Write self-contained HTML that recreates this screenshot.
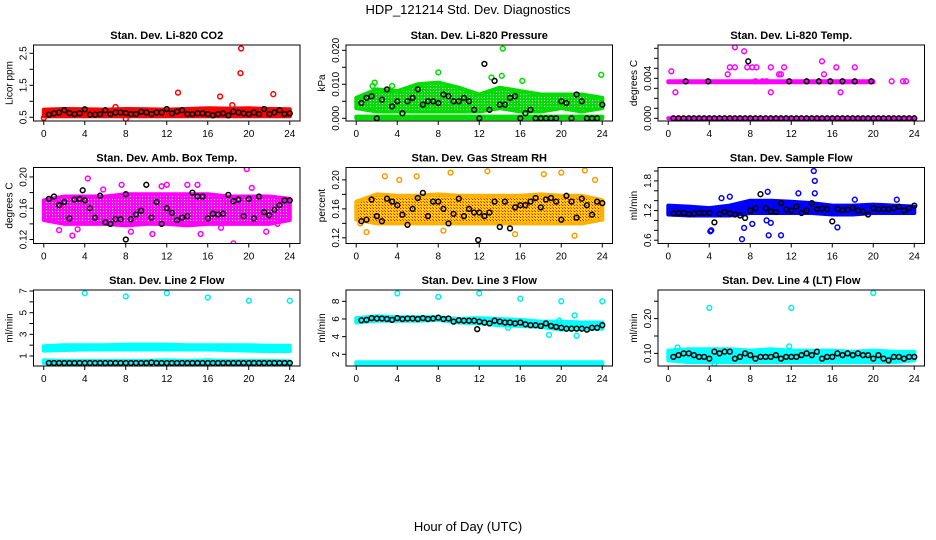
<!DOCTYPE html>
<html><head><meta charset="utf-8"><style>
html,body{margin:0;padding:0;background:#fff;}
svg{display:block;font-family:"Liberation Sans",Arial,sans-serif;}
</style></head><body>
<svg id="chart" width="936" height="540" viewBox="0 0 936 540" xmlns="http://www.w3.org/2000/svg">
<defs>
<pattern id="pat-green" width="3" height="3" patternUnits="userSpaceOnUse"><rect width="3" height="3" fill="#00dd00"/><rect x="1" y="1" width="1" height="1" fill="#fff"/></pattern>
<pattern id="pat-magenta" width="3" height="3" patternUnits="userSpaceOnUse"><rect width="3" height="3" fill="#ff00ff"/><rect x="1" y="1" width="1" height="1" fill="#fff"/></pattern>
<pattern id="pat-rh" width="3" height="3" patternUnits="userSpaceOnUse"><rect width="3" height="3" fill="#ffd000"/><rect x="1" y="1" width="1" height="1" fill="#ff0000"/><rect x="0" y="0" width="1" height="1" fill="#ff4000"/></pattern>
</defs>
<text x="468" y="14" text-anchor="middle" font-size="13">HDP_121214  Std. Dev. Diagnostics</text>
<text x="468" y="531" text-anchor="middle" font-size="13">Hour of Day (UTC)</text>
<g id="panels"></g>
</svg>
<script>
// ---- shared data ----
const xTicks = [0,4,8,12,16,20,24];
const bandHours = [0,2,4,6,8,10,12,14,16,18,20,22,24];
const blackHours = [0.5,1,1.5,2,2.5,3,3.5,4,4.5,5,5.5,6,6.5,7,7.5,8,8.5,9,9.5,10,10.5,11,11.5,12,12.5,13,13.5,14,14.5,15,15.5,16,16.5,17,17.5,18,18.5,19,19.5,20,20.5,21,21.5,22,22.5,23,23.5,24];

// ---- panel 1: CO2 ----
const co2BandLo = [0.53,0.53,0.53,0.53,0.53,0.53,0.53,0.53,0.53,0.53,0.53,0.53,0.53];
const co2BandHi = [0.74,0.76,0.75,0.74,0.76,0.75,0.74,0.76,0.78,0.77,0.78,0.76,0.75];
const co2OutX = [13.1,17.2,19.25,19.2,22.4,18.4,7,0,8];
const co2OutY = [1.27,1.15,2.65,1.88,1.22,0.88,0.82,0.48,0.45];
const co2Black = [0.58,0.62,0.65,0.72,0.63,0.6,0.62,0.75,0.58,0.58,0.6,0.72,0.6,0.65,0.65,0.63,0.6,0.6,0.67,0.65,0.6,0.65,0.65,0.76,0.62,0.68,0.72,0.6,0.6,0.62,0.62,0.6,0.56,0.6,0.62,0.56,0.68,0.65,0.62,0.6,0.65,0.6,0.76,0.6,0.65,0.72,0.6,0.62];

// ---- panel 2: Pressure ----
const prBandLo = [0.003,0.002,0.002,0.002,0.002,0.002,0.002,0.003,0.002,0.002,0.003,0.002,0.003];
const prBandHi = [0.006,0.0085,0.008,0.01,0.0105,0.009,0.007,0.009,0.008,0.007,0.007,0.007,0.006];
const prZeroLo = [0,0,0,0,0,0,0,0,0,0,0,0,0];
const prZeroHi = [0.0005,0.0005,0.0005,0.0005,0.0005,0.0005,0.0005,0.0005,0.0005,0.0005,0.0005,0.0005,0.0005];
const prOutX = [14.3,8,23.9,14.2,1.8,16.2,13.2,1.6,3.5];
const prOutY = [0.0205,0.0135,0.0128,0.0125,0.0105,0.011,0.012,0.0095,0.0095];
const prBlack = [0.0045,0.006,0.0065,0,0.0055,0.0085,0.0035,0.005,0.0015,0.005,0.006,0.0085,0.004,0.005,0.005,0.0045,0.007,0.0065,0.005,0.005,0.006,0.005,0.0025,0,0.016,0.0025,0.011,0.004,0.004,0.006,0.0065,0,0.0015,0.0025,0,0,0,0,0,0.005,0.0045,0,0.007,0.005,0,0,0,0.004];

// ---- panel 3: Temp ----
const tpBandHours = [0,8,9,20];
const tpBandLo = [0.0036,0.0036,0.0036,0.0036];
const tpBandHi = [0.0037,0.0037,0.0037,0.0037];
const tpZeroLo = [0,0,0,0,0,0,0,0,0,0,0,0,0];
const tpZeroHi = [0,0,0,0,0,0,0,0,0,0,0,0,0];
const tpOutX = [0.3,0.7,5.8,6,6.5,6.5,7.4,7.7,8.2,8.6,10,10,10.8,11,11.3,15,15.2,16.4,16.8,18.2,21.8,22.9,23.2,8.5,9.2,9.6];
const tpOutY = [0.0047,0.0026,0.0044,0.0051,0.0071,0.0051,0.0067,0.0051,0.0051,0.0051,0.0051,0.0026,0.0044,0.0044,0.0051,0.0057,0.0044,0.0051,0.0026,0.0051,0.0037,0.0037,0.0037,0.0037,0.0037,0.0037];
const tpBlack = [0,0,0,0,0,0,0,0,0,0,0,0,0,0,0,0,0,0,0,0,0,0,0,0,0,0,0,0,0,0,0,0,0,0,0,0,0,0,0,0,0,0,0,0,0,0,0,0];
const tpExtraX = [1.7,3.9,11.8,13.5,14.7,15.8,17,18.2,19.8,7.8];
const tpExtraY = [0.0037,0.0037,0.0037,0.0037,0.0037,0.0037,0.0037,0.0037,0.0037,0.0057];

// ---- panel 4: Amb Box Temp ----
const abBandLo = [0.145,0.14,0.14,0.14,0.138,0.14,0.14,0.138,0.14,0.14,0.14,0.14,0.145];
const abBandHi = [0.17,0.175,0.175,0.175,0.178,0.178,0.178,0.178,0.178,0.175,0.175,0.175,0.172];
const abOutX = [18.5,19.8,4.3,2.8,10.6,7.6,0.5,1.5,15.3,21.7,15,14,8.5,22.8,12,5.8,3.3,17.3,20.3,11.5];
const abOutY = [0.115,0.21,0.198,0.125,0.127,0.19,0.145,0.132,0.127,0.13,0.19,0.19,0.13,0.14,0.19,0.184,0.133,0.135,0.186,0.188];
const abBlack = [0.172,0.175,0.164,0.168,0.147,0.171,0.172,0.17,0.16,0.148,0.176,0.142,0.14,0.146,0.146,0.178,0.146,0.152,0.157,0.19,0.148,0.168,0.14,0.16,0.154,0.145,0.148,0.15,0.18,0.175,0.175,0.147,0.153,0.152,0.153,0.177,0.169,0.171,0.15,0.172,0.147,0.175,0.155,0.151,0.158,0.164,0.17,0.17];
const abExtraX = [8,3.8];
const abExtraY = [0.12,0.183];

// ---- panel 5: Gas Stream RH ----
const rhBandLo = [0.145,0.14,0.14,0.14,0.14,0.14,0.14,0.14,0.14,0.14,0.14,0.14,0.145];
const rhBandHi = [0.17,0.18,0.178,0.178,0.18,0.178,0.178,0.178,0.178,0.18,0.178,0.178,0.172];
const rhOutX = [9.2,12.8,22.3,5.9,21.3,0.4,20,2.8,4.2,15.5,18.3,23.3,1,8.5];
const rhOutY = [0.21,0.212,0.213,0.205,0.123,0.14,0.21,0.205,0.2,0.125,0.208,0.2,0.128,0.13];
const rhBlack = [0.143,0.145,0.173,0.15,0.143,0.174,0.17,0.165,0.152,0.138,0.16,0.175,0.182,0.15,0.17,0.17,0.16,0.14,0.153,0.174,0.15,0.16,0.155,0.155,0.15,0.155,0.17,0.135,0.17,0.133,0.162,0.165,0.165,0.17,0.175,0.162,0.173,0.175,0.17,0.145,0.178,0.17,0.148,0.174,0.165,0.152,0.17,0.168];
const rhExtraX = [11.9];
const rhExtraY = [0.117];

// ---- panel 6: Sample Flow ----
const sfBandLo = [1.12,1.1,1.1,1.1,1.15,1.15,1.15,1.15,1.12,1.12,1.15,1.15,1.15];
const sfBandHi = [1.3,1.28,1.25,1.3,1.4,1.4,1.38,1.35,1.3,1.3,1.32,1.3,1.28];
const sfOutX = [14.2,14.3,14.3,9.7,7.2,7.4,4.2,9.8,11,9.6,10,8.2,5.2,6,12.7,16.5,18.2,22.3,4.1];
const sfOutY = [2.0,1.8,1.55,1.58,0.62,0.85,0.8,0.7,0.7,1.0,0.95,0.93,1.45,1.48,1.55,0.86,1.42,1.42,0.78];
const sfBlack = [1.14,1.15,1.15,1.13,1.14,1.15,1.15,1.15,0.96,1.13,1.17,1.14,1.12,1.1,1.05,1.2,1.25,1.53,1.25,1.18,1.17,1.35,1.22,1.2,1.28,1.15,1.2,1.35,1.23,1.24,1.23,0.98,1.23,1.21,1.22,1.25,1.2,1.18,1.12,1.25,1.23,1.23,1.23,1.25,1.28,1.2,1.25,1.3];

// ---- panel 7: Line 2 Flow ----
const l2BandLo = [1.5,1.55,1.6,1.6,1.6,1.6,1.6,1.6,1.6,1.55,1.5,1.45,1.45];
const l2BandHi = [1.9,2.0,2.0,2.0,2.05,2.05,2.05,2.0,2.0,2.0,2.0,1.95,1.95];
const l2LowLo = [0.35,0.35,0.35,0.35,0.35,0.35,0.35,0.35,0.35,0.35,0.35,0.35,0.35];
const l2LowHi = [0.6,0.55,0.55,0.55,0.55,0.55,0.6,0.55,0.6,0.55,0.55,0.55,0.5];
const l2OutX = [4,8,12,16,20,24];
const l2OutY = [6.8,6.5,6.8,6.4,6.1,6.1];
const l2Black = [0.35,0.35,0.35,0.35,0.35,0.35,0.35,0.35,0.35,0.35,0.35,0.35,0.35,0.35,0.35,0.35,0.35,0.35,0.35,0.35,0.4,0.35,0.35,0.35,0.35,0.35,0.35,0.35,0.35,0.35,0.35,0.35,0.35,0.35,0.35,0.35,0.35,0.35,0.35,0.35,0.35,0.35,0.35,0.35,0.35,0.35,0.35,0.35];

// ---- panel 8: Line 3 Flow ----
const l3BandLo = [5.6,5.8,5.8,5.8,5.9,5.6,5.5,5.3,5.2,5.1,4.8,4.9,4.9];
const l3BandHi = [6.1,6.3,6.2,6.2,6.2,6.0,6.1,6.0,5.9,5.7,5.7,5.6,5.6];
const l3LowLo = [0.85,0.85,0.85,0.85,0.85,0.85,0.85,0.85,0.85,0.85,0.85,0.85,0.85];
const l3LowHi = [1.1,1.1,1.1,1.1,1.1,1.1,1.1,1.1,1.1,1.1,1.1,1.1,1.1];
const l3OutX = [4,8,12,16,20,24,21.3,21.5,18.8,14.8,19.8];
const l3OutY = [8.9,8.5,8.9,8.3,8,8,6.4,4.1,4.2,5.0,5.8];
const l3Black = [5.85,5.9,6.1,6.05,6.05,6.0,5.9,6.1,6.0,6.05,6.05,6.0,6.1,6.0,6.05,6.15,6.0,6.05,5.7,5.85,5.8,5.8,5.8,5.7,5.6,5.5,5.8,5.7,5.6,5.6,5.5,5.6,5.4,5.3,5.3,5.2,5.5,5.2,5.1,5.0,4.9,4.9,4.9,4.9,4.8,5.0,5.0,5.3];
const l3ExtraX = [11.8];
const l3ExtraY = [4.85];

// ---- panel 9: Line 4 (LT) Flow ----
const l4BandLo = [0.08,0.075,0.075,0.075,0.075,0.075,0.075,0.075,0.075,0.075,0.075,0.075,0.08];
const l4BandHi = [0.108,0.112,0.112,0.112,0.108,0.112,0.108,0.108,0.108,0.105,0.108,0.105,0.105];
const l4OutX = [4,12,20,4.5,0.9,11.8];
const l4OutY = [0.231,0.231,0.274,0.07,0.117,0.12];
const l4Black = [0.09,0.095,0.1,0.1,0.095,0.09,0.09,0.085,0.105,0.1,0.105,0.105,0.085,0.09,0.1,0.095,0.085,0.09,0.09,0.09,0.095,0.085,0.09,0.09,0.09,0.095,0.1,0.095,0.105,0.085,0.09,0.09,0.1,0.095,0.1,0.095,0.1,0.095,0.095,0.085,0.095,0.085,0.08,0.09,0.09,0.085,0.09,0.09];

const NS = "http://www.w3.org/2000/svg";
const colX = [33.5, 346, 658];
const boxW = 266.5;
const rowY = [45, 167.5, 290];
const boxH = 76;

const panels = [
 {name:"co2", col:0,row:0,title:"Stan. Dev. Li-820 CO2",ylab:"Licor ppm",yd:[0.384,2.759],ticks:[0.5,1,1.5,2,2.5],labels:["0.5","1.5","2.5"],labelVals:[0.5,1.5,2.5],
  bands:[{x:bandHours,lo:co2BandLo,hi:co2BandHi,fill:"#ff0000",stroke:"#ff0000"}],out:{x:co2OutX,y:co2OutY,c:"#ff0000"},black:co2Black},
 {name:"pressure", col:1,row:0,title:"Stan. Dev. Li-820 Pressure",ylab:"kPa",yd:[-0.0008,0.02156],ticks:[0,0.005,0.01,0.015,0.02],labels:["0.000","0.010","0.020"],labelVals:[0,0.01,0.02],
  bands:[{x:bandHours,lo:prZeroLo,hi:prZeroHi,fill:"#00dd00",stroke:"#00dd00"},{x:bandHours,lo:prBandLo,hi:prBandHi,fill:"url(#pat-green)",stroke:"#00dd00"}],out:{x:prOutX,y:prOutY,c:"#00dd00"},black:prBlack},
 {name:"temp", col:2,row:0,title:"Stan. Dev. Li-820 Temp.",ylab:"degrees C",yd:[-0.00027,0.00733],ticks:[0,0.001,0.002,0.003,0.004,0.005,0.006,0.007],labels:["0.000","0.004"],labelVals:[0,0.004],
  bands:[{x:bandHours,lo:tpZeroLo,hi:tpZeroHi,fill:"#ff00ff",stroke:"#ff00ff"},{x:tpBandHours,lo:tpBandLo,hi:tpBandHi,fill:"#ff00ff",stroke:"#ff00ff"}],out:{x:tpOutX,y:tpOutY,c:"#ff00ff"},black:tpBlack,ex:{x:tpExtraX,y:tpExtraY}},
 {name:"amb-box-temp", col:0,row:1,title:"Stan. Dev. Amb. Box Temp.",ylab:"degrees C",yd:[0.1149,0.2121],ticks:[0.12,0.14,0.16,0.18,0.2],labels:["0.12","0.16","0.20"],labelVals:[0.12,0.16,0.2],
  bands:[{x:bandHours,lo:abBandLo,hi:abBandHi,fill:"url(#pat-magenta)",stroke:"#ff00ff"}],out:{x:abOutX,y:abOutY,c:"#ff00ff"},black:abBlack,ex:{x:abExtraX,y:abExtraY}},
 {name:"gas-stream-rh", col:1,row:1,title:"Stan. Dev. Gas Stream RH",ylab:"percent",yd:[0.1122,0.2171],ticks:[0.12,0.14,0.16,0.18,0.2],labels:["0.12","0.16","0.20"],labelVals:[0.12,0.16,0.2],
  bands:[{x:bandHours,lo:rhBandLo,hi:rhBandHi,fill:"url(#pat-rh)",stroke:"#ffb000"}],out:{x:rhOutX,y:rhOutY,c:"#ff9900"},black:rhBlack,ex:{x:rhExtraX,y:rhExtraY}},
 {name:"sample-flow", col:2,row:1,title:"Stan. Dev. Sample Flow",ylab:"ml/min",yd:[0.5337,2.071],ticks:[0.6,0.8,1,1.2,1.4,1.6,1.8,2],labels:["0.6","1.2","1.8"],labelVals:[0.6,1.2,1.8],
  bands:[{x:bandHours,lo:sfBandLo,hi:sfBandHi,fill:"#0000ff",stroke:"#0000ff"}],out:{x:sfOutX,y:sfOutY,c:"#0000ff"},black:sfBlack},
 {name:"line2-flow", col:0,row:2,title:"Stan. Dev. Line 2 Flow",ylab:"ml/min",yd:[0.077,7.094],ticks:[1,2,3,4,5,6,7],labels:["1","3","5","7"],labelVals:[1,3,5,7],
  bands:[{x:bandHours,lo:l2BandLo,hi:l2BandHi,fill:"#00ffff",stroke:"#00ffff"},{x:bandHours,lo:l2LowLo,hi:l2LowHi,fill:"#00ffff",stroke:"#00ffff"}],out:{x:l2OutX,y:l2OutY,c:"#00eeee"},black:l2Black},
 {name:"line3-flow", col:1,row:2,title:"Stan. Dev. Line 3 Flow",ylab:"ml/min",yd:[0.675,9.282],ticks:[2,4,6,8],labels:["2","4","6","8"],labelVals:[2,4,6,8],
  bands:[{x:bandHours,lo:l3BandLo,hi:l3BandHi,fill:"#00ffff",stroke:"#00ffff"},{x:bandHours,lo:l3LowLo,hi:l3LowHi,fill:"#00ffff",stroke:"#00ffff"}],out:{x:l3OutX,y:l3OutY,c:"#00eeee"},black:l3Black,ex:{x:l3ExtraX,y:l3ExtraY}},
 {name:"line4-flow", col:2,row:2,title:"Stan. Dev. Line 4 (LT) Flow",ylab:"ml/min",yd:[0.0638,0.2822],ticks:[0.1,0.15,0.2,0.25],labels:["0.10","0.20"],labelVals:[0.1,0.2],
  bands:[{x:bandHours,lo:l4BandLo,hi:l4BandHi,fill:"#00ffff",stroke:"#00ffff"}],out:{x:l4OutX,y:l4OutY,c:"#00eeee"},black:l4Black}
];

function mk(tag, attrs, parent){ const e=document.createElementNS(NS,tag); for(const k in attrs) e.setAttribute(k,attrs[k]); if(parent) parent.appendChild(e); return e; }

const root = document.getElementById("panels");
panels.forEach(p=>{
  const L = colX[p.col], T = rowY[p.row], R = L+boxW, B = T+boxH;
  const xs = v => L + 10.25 + (v/24)*(boxW-20.5);
  const ys = v => B - (v - p.yd[0])/(p.yd[1]-p.yd[0])*boxH;
  const g = mk("g",{},root);
  
  
  // title
  const t = mk("text",{x:(L+R)/2,y:T-6,"text-anchor":"middle","font-size":"11","font-weight":"bold"},g);
  t.textContent = p.title;
  
  
  // clip
  const cid = "clip-"+p.name;
  const cp = mk("clipPath",{id:cid},g); mk("rect",{x:L,y:T,width:boxW,height:boxH},cp);
  const plot = mk("g",{"clip-path":"url(#"+cid+")"},g);
  // bands
  p.bands.forEach(b=>{
    let d = "";
    b.x.forEach((h,i)=>{ d += (i?"L":"M") + xs(h).toFixed(1) + "," + ys(b.hi[i]).toFixed(1); });
    for(let i=b.x.length-1;i>=0;i--) d += "L" + xs(b.x[i]).toFixed(1) + "," + ys(b.lo[i]).toFixed(1);
    d += "Z";
    const pa = mk("path",{d:d,fill:b.fill,stroke:b.stroke,"stroke-width":"4","stroke-linejoin":"round"},plot);
    
    
  });
  // outliers
  p.out.x.forEach((h,i)=>{
    const c = mk("circle",{cx:xs(h).toFixed(1),cy:ys(p.out.y[i]).toFixed(1),r:"2.4",fill:"none",stroke:p.out.c,"stroke-width":"1.5"},plot);
    
    
  });
  // black hourly points
  p.black.forEach((v,i)=>{
    const c = mk("circle",{cx:xs(blackHours[i]).toFixed(1),cy:ys(v).toFixed(1),r:"2.4",fill:"none",stroke:"#000","stroke-width":"1.5"},plot);
    
    
  });
  if(p.ex){ p.ex.x.forEach((h,i)=>{
    const c = mk("circle",{cx:xs(h).toFixed(1),cy:ys(p.ex.y[i]).toFixed(1),r:"2.4",fill:"none",stroke:"#000","stroke-width":"1.5"},plot);
    
    
  }); }
  // box
  const bx = mk("rect",{x:L,y:T,width:boxW,height:boxH,fill:"none",stroke:"#000","stroke-width":"1"},g);
  
  
  // x axis
  const xa = mk("g",{},g);
  
  
  xTicks.forEach(v=>{
    mk("line",{x1:xs(v),x2:xs(v),y1:B,y2:B+4,stroke:"#000"},xa);
    const tl = mk("text",{x:xs(v),y:B+16,"text-anchor":"middle","font-size":"10"},xa);
    tl.textContent = String(v);
    
    
  });
  // y axis
  const ya = mk("g",{},g);
  
  
  p.ticks.forEach(v=>{ mk("line",{x1:L-4,x2:L,y1:ys(v),y2:ys(v),stroke:"#000"},ya); });
  p.labelVals.forEach((v,i)=>{
    const yy = ys(v);
    const tl = mk("text",{x:L-7,y:yy,"text-anchor":"middle","font-size":"10",transform:"rotate(-90 "+(L-7)+" "+yy+")"},ya);
    tl.textContent = p.labels[i];
    
    
  });
  const yt = mk("text",{x:L-21,y:(T+B)/2,"text-anchor":"middle","font-size":"10",transform:"rotate(-90 "+(L-21)+" "+((T+B)/2)+")"},g);
  yt.textContent = p.ylab;
  
  
});
</script>
</body></html>
